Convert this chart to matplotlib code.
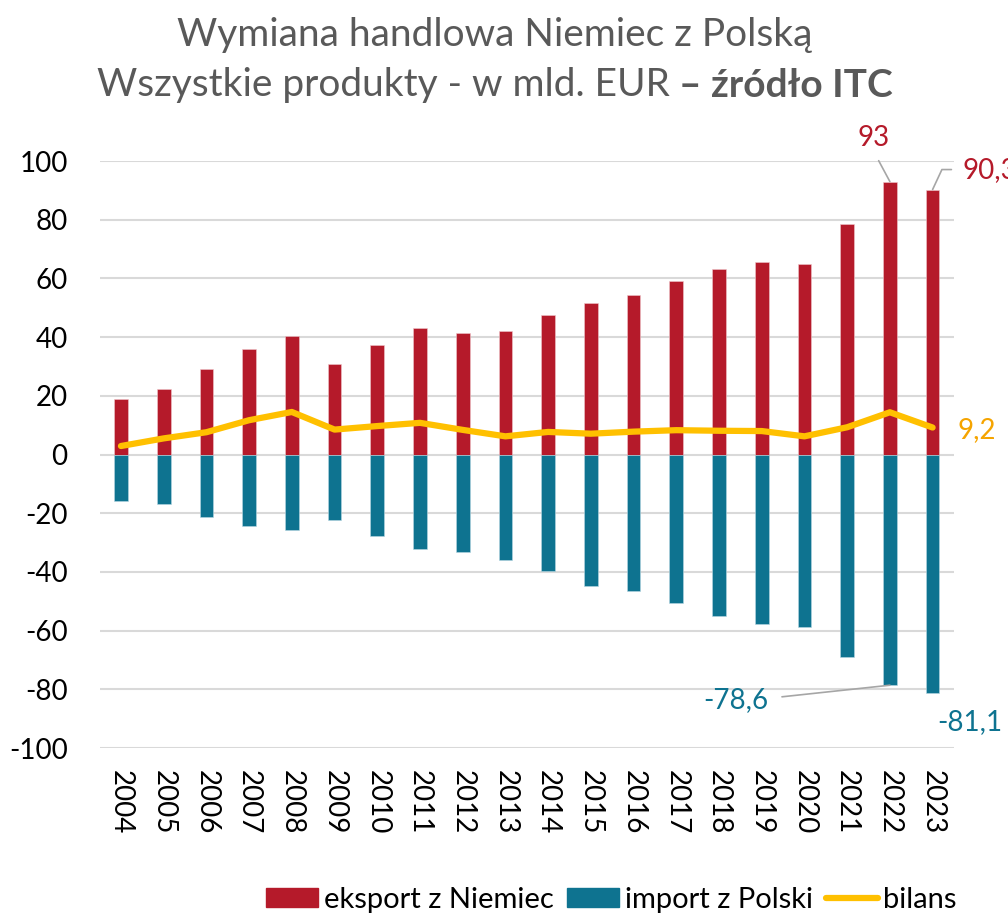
import numpy as np
import matplotlib
matplotlib.use("Agg")
from matplotlib import pyplot as plt
from matplotlib.patches import Patch
from matplotlib.lines import Line2D

plt.rcParams['font.family'] = ['Lato', 'DejaVu Sans']

years = [str(y) for y in range(2004, 2024)]
eksport = [18.8, 22.2, 29.0, 36.0, 40.3, 30.7, 37.3, 43.1, 41.5, 42.2,
           47.4, 51.8, 54.3, 59.0, 63.2, 65.6, 65.0, 78.4, 93.0, 90.3]
import_pl = [-15.9, -16.7, -21.4, -24.3, -25.8, -22.2, -27.6, -32.3, -33.1, -36.0,
             -39.7, -44.7, -46.5, -50.7, -55.1, -57.6, -58.8, -69.1, -78.6, -81.1]
bilans = [2.9, 5.5, 7.6, 11.7, 14.5, 8.5, 9.7, 10.8, 8.4, 6.2,
          7.7, 7.1, 7.8, 8.3, 8.1, 8.0, 6.2, 9.3, 14.4, 9.2]
yticks = list(range(-100, 101, 20))

RED = '#B51A2A'
TEAL = '#0E7390'
YELLOW = '#FFC000'
ORANGE = '#F5A400'
GRID = '#D9D9D9'
GRAY = '#595959'

fig = plt.figure(figsize=(10.08, 9.14), dpi=100)
ax = fig.add_axes([0.0988, 0.1816, 0.8476, 0.6422])

x = np.arange(len(years))
ax.bar(x, eksport, width=0.32, color=RED, edgecolor='#f0c8cc', linewidth=0.4, zorder=2)
ax.bar(x, import_pl, width=0.32, color=TEAL, edgecolor='#b8d8e2', linewidth=0.4, zorder=2)
ax.plot(x, bilans, color=YELLOW, lw=4.5, solid_capstyle='round',
        solid_joinstyle='round', zorder=3)

ax.set_xlim(-0.5, len(years) - 0.5)
ax.set_ylim(-100, 100)
ax.set_yticks(yticks)
ax.set_yticklabels([str(v) for v in yticks])
ax.set_xticks(x)
ax.set_xticklabels(years, rotation=270)
ax.yaxis.grid(True, color=GRID, lw=1.5, zorder=0)
ax.set_axisbelow(True)
for s in ax.spines.values():
    s.set_visible(False)
ax.tick_params(axis='y', length=0, pad=23, labelsize=20)
ax.tick_params(axis='x', length=0, pad=16, labelsize=20)

# data labels
ax.annotate('93', xy=(18, eksport[18]), xytext=(17.61, 108), ha='center', va='center',
            fontsize=20, color=RED, annotation_clip=False,
            arrowprops=dict(arrowstyle='-', color='#a6a6a6', lw=1.2,
                            relpos=(0.5, 0), shrinkA=6, shrinkB=0))
ax.annotate('90,3', xy=(19, eksport[19]), xytext=(19.7, 97.1), ha='left', va='center',
            fontsize=20, color=RED, annotation_clip=False,
            arrowprops=dict(arrowstyle='-', color='#a6a6a6', lw=1.2,
                            relpos=(0, 0.5), shrinkA=6, shrinkB=0,
                            connectionstyle='angle,angleA=0,angleB=65,rad=0'))
ax.text(19.58, 8.5, '9,2', ha='left', va='center', fontsize=20, color=ORANGE,
        clip_on=False)
ax.annotate('-78,6', xy=(18, import_pl[18]), xytext=(15.15, -83.5), ha='right', va='center',
            fontsize=20, color=TEAL, annotation_clip=False,
            arrowprops=dict(arrowstyle='-', color='#a6a6a6', lw=1.2,
                            relpos=(1, 0.55), shrinkA=8, shrinkB=0))
ax.text(19.11, -91.3, '-81,1', ha='left', va='center', fontsize=20, color=TEAL,
        clip_on=False)

# title
fig.text(0.491, 0.962, 'Wymiana handlowa Niemiec z Polską', ha='center', va='center',
         fontsize=28, color=GRAY)
t1 = fig.text(0.5, 0.907, 'Wszystkie produkty - w mld. EUR ', ha='right', va='center',
              fontsize=28, color=GRAY)
t2 = fig.text(0.5, 0.907, '– źródło ITC', ha='left', va='center',
              fontsize=28, color=GRAY, fontweight='bold')
r = fig.canvas.get_renderer()
w1 = t1.get_window_extent(r).width / fig.bbox.width
w2 = t2.get_window_extent(r).width / fig.bbox.width
left = 0.491 - (w1 + w2) / 2
t1.set_x(left + w1)
t2.set_x(left + w1)

# legend
handles = [Patch(color=RED), Patch(color=TEAL),
           Line2D([], [], color=YELLOW, lw=4.5, solid_capstyle='round')]
labels = ['eksport z Niemiec', 'import z Polski', 'bilans']
fig.legend(handles, labels, loc='center', bbox_to_anchor=(0.6066, 0.0155), ncol=3,
           frameon=False, fontsize=21, handlelength=1.78, handleheight=0.58,
           handletextpad=0.2, columnspacing=0.45, borderaxespad=0)

fig.savefig('out.png', dpi=100)
